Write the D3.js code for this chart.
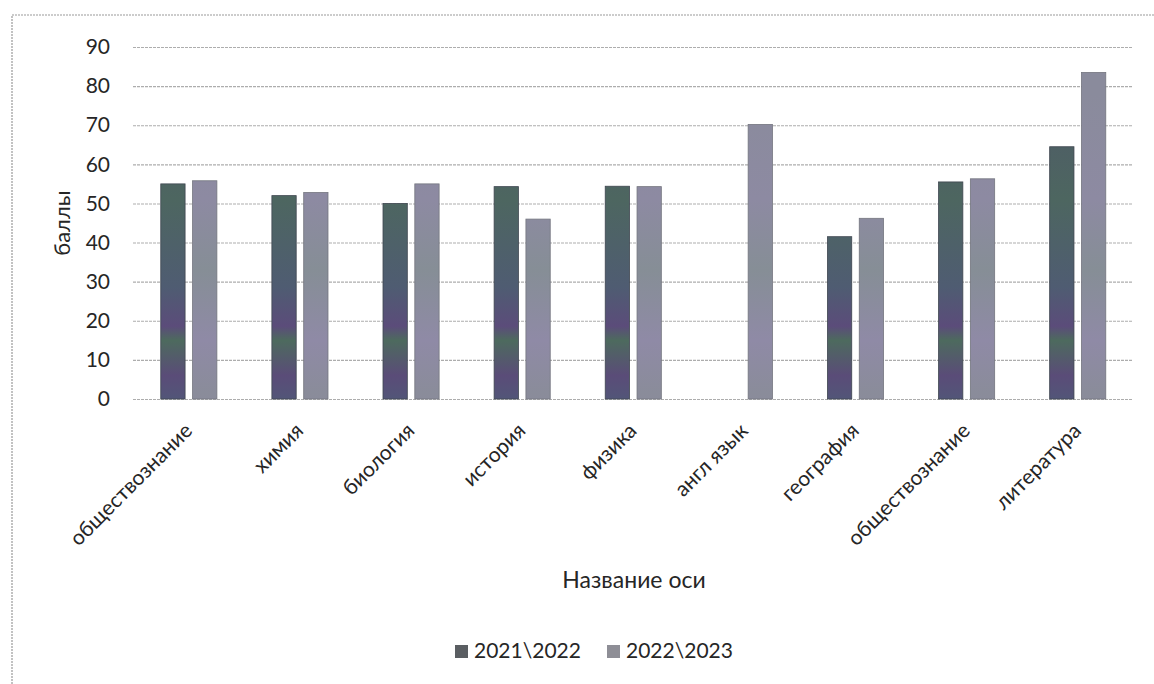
<!DOCTYPE html>
<html>
<head>
<meta charset="utf-8">
<script src="https://cdn.jsdelivr.net/npm/d3@7"></script>
<style>
  body { margin: 0; background: #fff; }
  svg text { font-family: Lato, "Open Sans", sans-serif; fill: #262626; }
</style>
</head>
<body>
<div id="chart"></div>
<script>
// data
const categories = ["обществознание", "химия", "биология", "история", "физика",
                    "англ язык", "география", "обществознание ", "литература"];
const series = ["2021\\2022", "2022\\2023"];
const values2021 = [55, 52, 50, 54.3, 54.4, 0, 41.5, 55.5, 64.5];
const values2022 = [55.8, 52.8, 55, 46, 54.3, 70.2, 46.2, 56.3, 83.5];
const yTicks = [0, 10, 20, 30, 40, 50, 60, 70, 80, 90];

const W = 1154, H = 684;
const margin = {top: 47, right: 21, bottom: 285, left: 133};
const width = W - margin.left - margin.right;
const height = H - margin.top - margin.bottom;

const svg = d3.select("#chart").append("svg")
    .attr("width", W)
    .attr("height", H);

// scanned frame round the chart
svg.append("path")
    .attr("d", "M12," + H + "V15H" + W)
    .attr("fill", "none")
    .attr("stroke", "#9a9a9a")
    .attr("stroke-width", 1.2)
    .attr("stroke-dasharray", "2,1");

// banded fills imitate the noisy scan
const defs = svg.append("defs");
function banded(id, stops) {
    const g = defs.append("linearGradient")
        .attr("id", id)
        .attr("gradientUnits", "userSpaceOnUse")
        .attr("x1", 0).attr("x2", 0)
        .attr("y1", margin.top).attr("y2", margin.top + height);
    stops.forEach(s => g.append("stop").attr("offset", s[0]).attr("stop-color", s[1]));
}
banded("g2021", [[0, "#4f5a68"], [0.3, "#4d6660"], [0.55, "#4f5c72"], [0.66, "#5b4c7a"],
                 [0.7, "#4d6a5e"], [0.8, "#5a4c78"], [0.9, "#4e5a78"], [1, "#574a7a"]]);
banded("g2022", [[0, "#8a8b9c"], [0.3, "#8d8aa2"], [0.5, "#868e96"], [0.7, "#8f8aa6"],
                 [0.85, "#8a8c9a"], [1, "#8c88a2"]]);
const fills = ["url(#g2021)", "url(#g2022)"];
const legendFills = ["#5a5e62", "#8e8e96"];

const g = svg.append("g")
    .attr("transform", "translate(" + margin.left + "," + margin.top + ")");

const x = d3.scaleBand().domain(d3.range(categories.length)).range([0, width]);
const xSub = d3.scaleBand().domain([0, 1])
    .range([x.bandwidth() * 0.25, x.bandwidth() * 0.755])
    .paddingInner(0.236);
const y = d3.scaleLinear().domain([0, 90]).range([height, 0]);

// gridlines
g.append("g")
    .attr("class", "grid")
    .call(d3.axisLeft(y).tickValues(yTicks).tickSize(-width).tickFormat(""))
    .call(s => s.select(".domain").remove())
    .call(s => s.selectAll("line")
        .attr("stroke", "#adadad")
        .attr("stroke-width", 1.1)
        .attr("stroke-dasharray", "3,1"));

// y tick labels
g.append("g")
    .attr("transform", "translate(-23,0)")
    .call(d3.axisLeft(y).tickValues(yTicks).tickSize(0).tickPadding(0))
    .call(s => s.select(".domain").remove())
    .call(s => s.selectAll("text")
        .attr("font-size", 21)
        .attr("font-family", null));

// bars
const rows = categories.map((c, i) => ({i, vals: [values2021[i], values2022[i]]}));
const groups = g.selectAll(".grp")
    .data(rows)
    .join("g")
    .attr("class", "grp")
    .attr("transform", d => "translate(" + x(d.i) + ",0)");

groups.selectAll("rect")
    .data(d => d.vals.map((v, k) => ({k, v})).filter(b => b.v > 0))
    .join("rect")
    .attr("x", b => xSub(b.k))
    .attr("width", xSub.bandwidth())
    .attr("y", b => y(b.v))
    .attr("height", b => y(0) - y(b.v))
    .attr("fill", b => fills[b.k])
    .attr("stroke", b => b.k === 0 ? "#3f4650" : "#74767f")
    .attr("stroke-width", 0.8);

// x labels, rotated
g.append("g")
    .attr("transform", "translate(0," + height + ")")
    .call(d3.axisBottom(x).tickSize(0).tickFormat(i => categories[i].trim()))
    .call(s => s.select(".domain").remove())
    .call(s => s.selectAll("text")
        .attr("font-size", 21)
        .attr("font-family", null)
        .attr("y", 0).attr("dy", 0)
        .attr("text-anchor", "end")
        .attr("transform", "translate(5,33) rotate(-45)"));

// axis titles
svg.append("text")
    .attr("transform", "translate(70," + (margin.top + height / 2) + ") rotate(-90)")
    .attr("text-anchor", "middle")
    .attr("font-size", 22)
    .text("баллы");

svg.append("text")
    .attr("x", 634)
    .attr("y", 588)
    .attr("text-anchor", "middle")
    .attr("font-size", 23)
    .text("Название оси");

// legend
const legend = svg.append("g").attr("transform", "translate(455,645)");
const items = legend.selectAll("g")
    .data(series)
    .join("g")
    .attr("transform", (d, i) => "translate(" + (i * 152) + ",0)");
items.append("rect")
    .attr("width", 13).attr("height", 13)
    .attr("fill", (d, i) => legendFills[i]);
items.append("text")
    .attr("x", 19).attr("y", 13)
    .attr("font-size", 21)
    .text(d => d);
</script>
</body>
</html>
